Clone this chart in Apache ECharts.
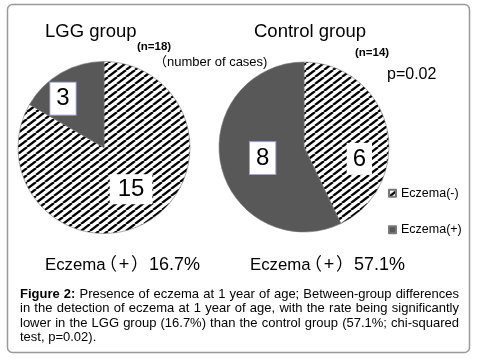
<!DOCTYPE html>
<html>
<head>
<meta charset="utf-8">
<script src="https://cdn.jsdelivr.net/npm/echarts@6/dist/echarts.min.js"></script>
<style>
html,body{margin:0;padding:0;background:#fff;}
#main{width:477px;height:359px;}
</style>
</head>
<body>
<div id="main"></div>
<script>
// ---- data ----
const categories = ['Eczema(-)', 'Eczema(+)'];
const lggCounts = [15, 3];
const controlCounts = [6, 8];
const groupTitles = ['LGG group', 'Control group'];
const groupN = ['(n=18)', '(n=14)'];
const unitNote = '（number of cases)';
const rateWord = 'Eczema';
const rateOpen = '（';
const rateSign = '+';
const rateClose = '）';
const rateValues = ['16.7%', '57.1%'];
const pValue = 'p=0.02';
const captionBold = 'Figure 2:';
const captionLines = [
  'Figure 2: Presence of eczema at 1 year of age; Between-group differences',
  'in the detection of eczema at 1 year of age, with the rate being significantly',
  'lower in the LGG group (16.7%) than the control group (57.1%; chi-squared',
  'test, p=0.02).'
];

// ---- styles ----
const FONT = '"Liberation Sans", Arial, "Noto Sans CJK JP", sans-serif';
const DARK = '#585858';

function makeHatch() {
  const w = 9, h = 7;
  const c = document.createElement('canvas');
  c.width = w; c.height = h;
  const g = c.getContext('2d');
  g.fillStyle = '#fff';
  g.fillRect(0, 0, w, h);
  g.strokeStyle = '#000';
  g.lineWidth = 2.3;
  for (const ox of [-w, 0, w]) {
    g.beginPath();
    g.moveTo(ox, h);
    g.lineTo(ox + w, 0);
    g.stroke();
  }
  return c;
}
const hatch = { image: makeHatch(), repeat: 'repeat' };

function sliceColor(i) { return i === 0 ? hatch : DARK; }

function labelStyle(i, value) {
  const isDark = i === 1;
  return {
    show: true,
    position: 'inside',
    formatter: '{c}',
    fontSize: 24,
    lineHeight: 24,
    fontFamily: FONT,
    color: '#000',
    backgroundColor: '#fff',
    borderColor: isDark ? '#9a9acb' : 'transparent',
    borderWidth: isDark ? 1 : 0,
    padding: String(value).length > 1 ? [3, 8] : [4, 6]
  };
}

const lggOffsets = [[4, 2], [-18, -9]];
const ctrlOffsets = [[11, 22], [3, 1]];

function pieSeries(counts, center, radius, offsets) {
  return {
    type: 'pie',
    center: center,
    radius: radius,
    startAngle: 90,
    clockwise: true,
    silent: true,
    animation: false,
    itemStyle: { borderColor: '#777', borderWidth: 0.6 },
    labelLine: { show: false },
    labelLayout: function (p) {
      const o = offsets[p.dataIndex];
      return { dx: o[0], dy: o[1] };
    },
    data: categories.map((n, i) => ({
      name: n,
      value: counts[i],
      itemStyle: { color: sliceColor(i) },
      label: labelStyle(i, counts[i])
    }))
  };
}

// ---- caption layout (justified) ----
const CAP_SIZE = 13;
const measureCtx = document.createElement('canvas').getContext('2d');
function measure(t, bold) {
  measureCtx.font = (bold ? 'bold ' : '') + CAP_SIZE + 'px ' + FONT;
  return measureCtx.measureText(t).width;
}
const capLeft = 20, capRight = 459, capTop = 294, capLH = 14.5;
const boldWords = captionBold.split(' ');
const captionGraphics = [];
captionLines.forEach((line, li) => {
  const words = line.split(' ');
  const isBold = words.map((w, wi) => li === 0 && wi < boldWords.length);
  const widths = words.map((w, wi) => measure(w, isBold[wi]));
  const total = widths.reduce((a, b) => a + b, 0);
  const justify = li < captionLines.length - 1;
  const gap = justify ? (capRight - capLeft - total) / (words.length - 1) : measure(' ', false);
  let x = capLeft;
  words.forEach((w, wi) => {
    captionGraphics.push({
      type: 'text',
      silent: true,
      style: {
        text: w, x: x, y: capTop + li * capLH,
        fontSize: CAP_SIZE, fontFamily: FONT,
        fontWeight: isBold[wi] ? 'bold' : 'normal',
        fill: '#000', align: 'left', verticalAlign: 'middle'
      }
    });
    x += widths[wi] + gap;
  });
});

function txt(text, x, y, size, weight, align) {
  return {
    type: 'text', silent: true,
    style: {
      text: text, x: x, y: y, fontSize: size, fontFamily: FONT,
      fontWeight: weight || 'normal', fill: '#000',
      align: align || 'left', verticalAlign: 'middle'
    }
  };
}

function rateText(x0, value) {
  return [
    txt(rateWord, x0, 265, 16.8),
    txt(rateOpen, x0 + 72, 265, 17.5, 'normal', 'right'),
    txt(rateSign, x0 + 79, 265, 18, 'normal', 'center'),
    txt(rateClose, x0 + 86, 265, 17.5, 'normal', 'left'),
    txt(value, x0 + 104, 265, 18)
  ];
}

const chart = echarts.init(document.getElementById('main'), null, { renderer: 'canvas' });
chart.setOption({
  animation: false,
  backgroundColor: '#fff',
  legend: {
    data: categories,
    orient: 'vertical',
    left: 388,
    top: 187,
    padding: 0,
    itemWidth: 7,
    itemHeight: 7,
    itemGap: 24,
    icon: 'rect',
    selectedMode: false,
    textStyle: { fontSize: 12.5, lineHeight: 12, fontFamily: FONT, color: '#000' }
  },
  series: [
    pieSeries(lggCounts, [104, 147.5], 86, lggOffsets),
    pieSeries(controlCounts, [304, 147], 85, ctrlOffsets)
  ],
  graphic: [
    {
      type: 'rect', silent: true, z: -10,
      shape: { x: 7.5, y: 4.5, width: 462, height: 348, r: 5 },
      style: { fill: 'none', stroke: '#999', lineWidth: 1.5 }
    },
    txt(groupTitles[0], 45, 32, 18.5),
    txt(groupN[0], 137, 47, 11.5, 'bold'),
    txt(unitNote, 154, 62, 13),
    txt(groupTitles[1], 254, 32, 18.5),
    txt(groupN[1], 355, 53, 11.5, 'bold'),
    txt(pValue, 387, 75, 16)
  ].concat(rateText(45, rateValues[0]), rateText(250, rateValues[1]), captionGraphics)
});
</script>
</body>
</html>
